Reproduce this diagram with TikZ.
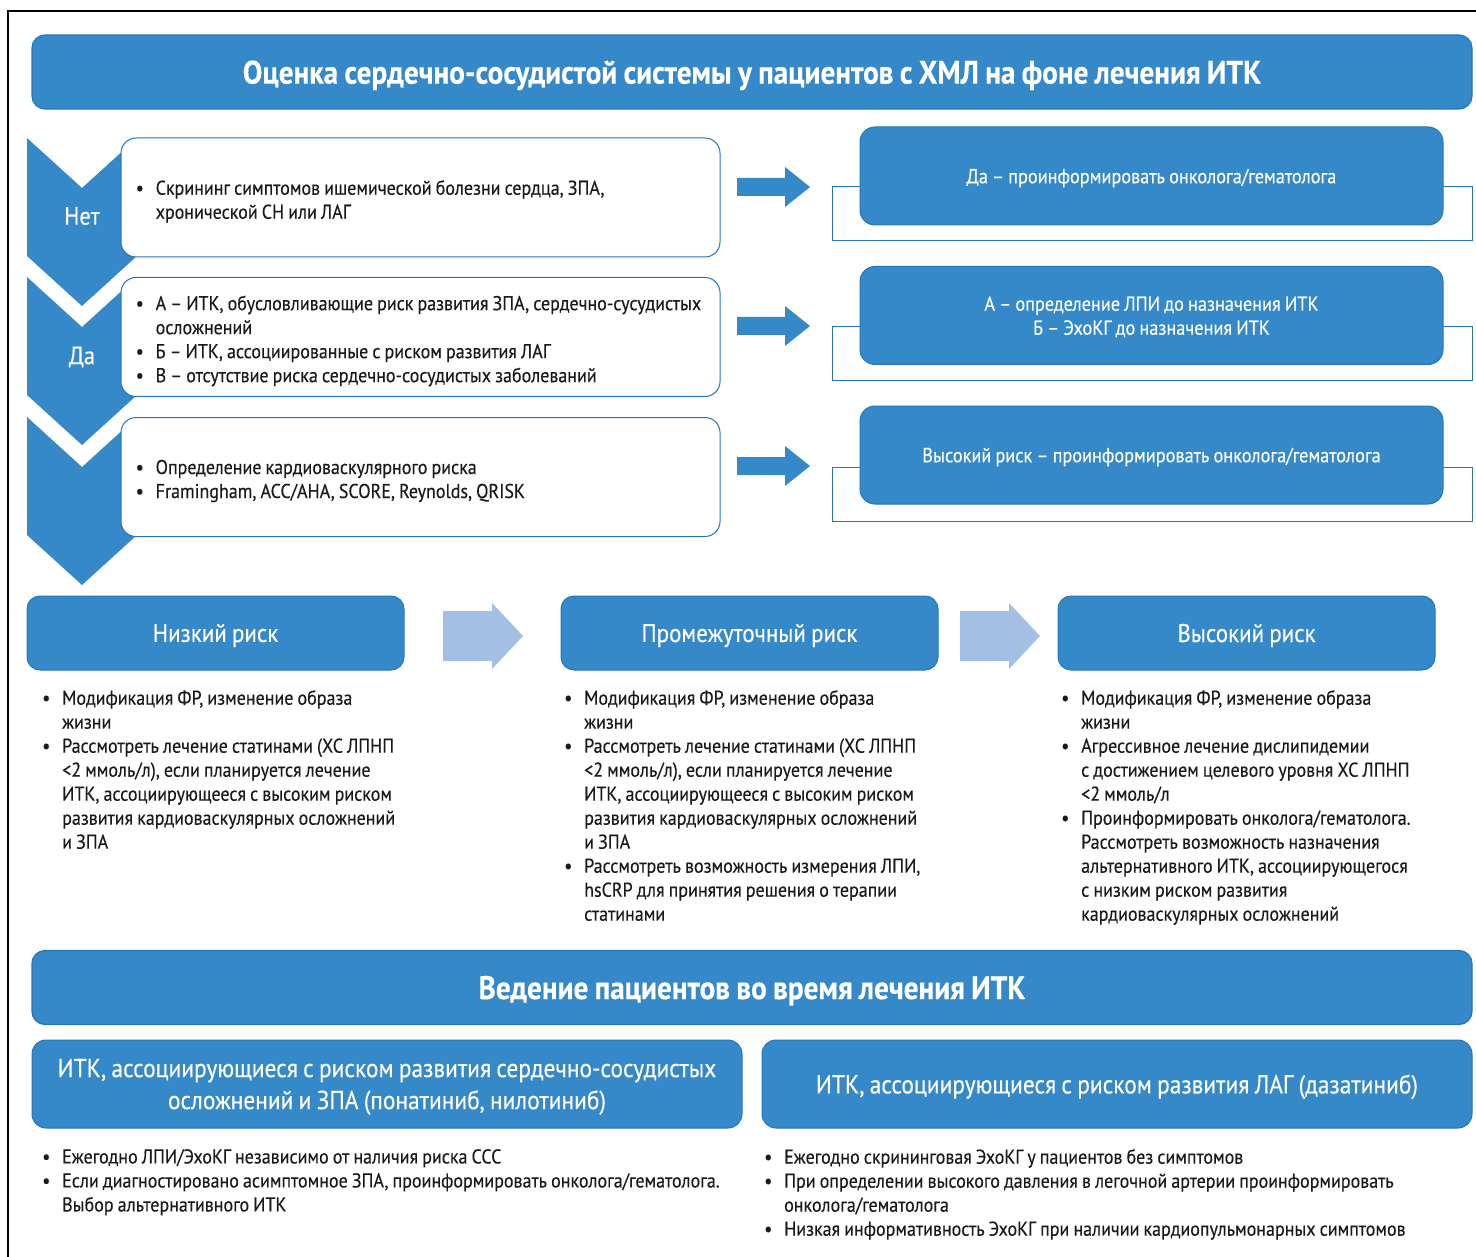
\documentclass[tikz,border=0pt]{standalone}
\usepackage{fontspec}
\setmainfont{PT Sans}[FakeStretch=0.9, WordSpace=0.85, FakeBold=0.3]
\usetikzlibrary{positioning}
\definecolor{mainblue}{HTML}{3589C8}
\definecolor{edgeblue}{HTML}{2476BC}
\definecolor{lightblue}{HTML}{A3C0E4}
\definecolor{ink}{HTML}{1A1A1A}
\tikzset{x=1pt, y=-1pt, font=\fontsize{20}{24}\selectfont}
\tikzstyle{titlebox} = [draw=edgeblue, fill=mainblue, rounded corners=13pt, line width=1.2pt, text=white, font=\fontsize{32.5}{36}\selectfont\bfseries, text depth=0pt, minimum width=1440pt, minimum height=74pt]
\tikzstyle{stepbox} = [draw=edgeblue, fill=white, rounded corners=15pt, line width=1pt, minimum width=599pt, minimum height=119pt]
\tikzstyle{answer} = [draw=edgeblue, fill=mainblue, rounded corners=15pt, line width=1pt, text=white, font=\fontsize{20.3}{24}\selectfont, text depth=0pt, minimum width=583pt, minimum height=98pt, align=center]
\tikzstyle{answerback} = [draw=edgeblue, fill=white, line width=1pt, minimum width=640pt, minimum height=54pt]
\tikzstyle{riskbox} = [draw=edgeblue, fill=mainblue, rounded corners=13pt, line width=1pt, text=white, font=\fontsize{25.5}{30}\selectfont, text depth=0pt, minimum width=377pt, minimum height=74pt]
\tikzstyle{groupbox} = [draw=edgeblue, fill=mainblue, rounded corners=14pt, line width=1pt, text=white, font=\fontsize{26}{32}\selectfont, text depth=0pt, minimum width=710pt, minimum height=88pt, align=center]
\tikzstyle{chevtext} = [text=white, font=\fontsize{25}{30}\selectfont]
\tikzstyle{listtext} = [text=ink, inner sep=0pt, anchor=north west, align=left]
\newcommand{\itm}{\makebox[20pt][l]{\textbullet}}
\newcommand{\cont}{\hspace*{20pt}}
\newcommand{\chevron}[1]{\fill [mainblue] (27,#1) -- (82,{#1+50}) -- (137,#1) -- (137,{#1+118}) -- (82,{#1+168}) -- (27,{#1+118}) -- cycle;}
\newcommand{\blockarrow}[7]{\fill [#1] (#2,{#3-#6}) -- (#4,{#3-#6}) -- (#4,{#3-#7}) -- (#5,#3) -- (#4,{#3+#7}) -- (#4,{#3+#6}) -- (#2,{#3+#6}) -- cycle;}

\begin{document}
\begin{tikzpicture}
	\useasboundingbox (0,0) rectangle (1476,1257);
	\draw [line width=1.3pt] (8,1257) -- (8,11) -- (1476,11);

	\node [titlebox] (title) at (752,72) {Оценка сердечно-сосудистой системы у пациентов с ХМЛ на фоне лечения ИТК};

	\chevron{138}
	\chevron{277}
	\chevron{417}
	\node [chevtext] (no) at (82,216) {Нет};
	\node [chevtext] (yes) at (82,357) {Да};

	\node [stepbox] (screen) at (420.5,197.5) {};
	\node [stepbox] (groups) at (420.5,337) {};
	\node [stepbox] (cvrisk) at (420.5,477) {};
	\node [listtext, right=15pt of screen.west, yshift=-4pt] (screentext) {\itm Скрининг симптомов ишемической болезни сердца, ЗПА,\\\cont хронической СН или ЛАГ};
	\node [listtext, right=15pt of groups.west, yshift=-4pt] (groupstext) {\itm А – ИТК, обусловливающие риск развития ЗПА, сердечно-сусудистых\\\cont осложнений\\\itm Б – ИТК, ассоциированные с риском развития ЛАГ\\\itm В – отсутствие риска сердечно-сосудистых заболеваний};
	\node [listtext, right=15pt of cvrisk.west, yshift=-4pt] (cvrisktext) {\itm Определение кардиоваскулярного риска\\\itm Framingham, ACC/AHA, SCORE, Reynolds, QRISK};

	\blockarrow{mainblue}{737}{187}{785}{810}{9}{20}
	\blockarrow{mainblue}{737}{326}{785}{810}{9}{20}
	\blockarrow{mainblue}{737}{466}{785}{810}{9}{20}

	\node [answerback] (informback) at (1152,214) {};
	\node [answer] (inform) at (1151.5,176) {Да – проинформировать онколога/гематолога};
	\node [answerback] (testsback) at (1152,354) {};
	\node [answer] (tests) at (1151.5,315.5) {А – определение ЛПИ до назначения ИТК\\Б – ЭхоКГ до назначения ИТК};
	\node [answerback] (highback) at (1152,494) {};
	\node [answer] (high) at (1151.5,455) {Высокий риск – проинформировать онколога/гематолога};

	\node [riskbox] (lowrisk) at (215.5,633) {Низкий риск};
	\node [riskbox] (midrisk) at (749.5,633) {Промежуточный риск};
	\node [riskbox] (highrisk) at (1246.5,633) {Высокий риск};
	\blockarrow{lightblue}{443}{636}{492}{523}{25}{33}
	\blockarrow{lightblue}{960}{636}{1009}{1040}{25}{33}

	\node [listtext] (lowlist) at (42,690) {\itm Модификация ФР, изменение образа\\\cont жизни\\\itm Рассмотреть лечение статинами (ХС ЛПНП\\\cont <2 ммоль/л), если планируется лечение\\\cont ИТК, ассоциирующееся с высоким риском\\\cont развития кардиоваскулярных осложнений\\\cont и ЗПА};
	\node [listtext] (midlist) at (564,690) {\itm Модификация ФР, изменение образа\\\cont жизни\\\itm Рассмотреть лечение статинами (ХС ЛПНП\\\cont <2 ммоль/л), если планируется лечение\\\cont ИТК, ассоциирующееся с высоким риском\\\cont развития кардиоваскулярных осложнений\\\cont и ЗПА\\\itm Рассмотреть возможность измерения ЛПИ,\\\cont hsCRP для принятия решения о терапии\\\cont статинами};
	\node [listtext] (highlist) at (1061,690) {\itm Модификация ФР, изменение образа\\\cont жизни\\\itm Агрессивное лечение дислипидемии\\\cont с достижением целевого уровня ХС ЛПНП\\\cont <2 ммоль/л\\\itm Проинформировать онколога/гематолога.\\\cont Рассмотреть возможность назначения\\\cont альтернативного ИТК, ассоциирующегося\\\cont с низким риском развития\\\cont кардиоваскулярных осложнений};

	\node [titlebox] (manage) at (752,987.5) {Ведение пациентов во время лечения ИТК};
	\node [groupbox] (cvgroup) at (387,1084) {ИТК, ассоциирующиеся с риском развития сердечно-сосудистых\\осложнений и ЗПА (понатиниб, нилотиниб)};
	\node [groupbox] (laggroup) at (1117,1084) {ИТК, ассоциирующиеся с риском развития ЛАГ (дазатиниб)};

	\node [listtext] (cvlist) at (42,1149) {\itm Ежегодно ЛПИ/ЭхоКГ независимо от наличия риска ССС\\\itm Если диагностировано асимптомное ЗПА, проинформировать онколога/гематолога.\\\cont Выбор альтернативного ИТК};
	\node [listtext] (laglist) at (764,1149) {\itm Ежегодно скрининговая ЭхоКГ у пациентов без симптомов\\\itm При определении высокого давления в легочной артерии проинформировать\\\cont онколога/гематолога\\\itm Низкая информативность ЭхоКГ при наличии кардиопульмонарных симптомов};
\end{tikzpicture}
\end{document}
